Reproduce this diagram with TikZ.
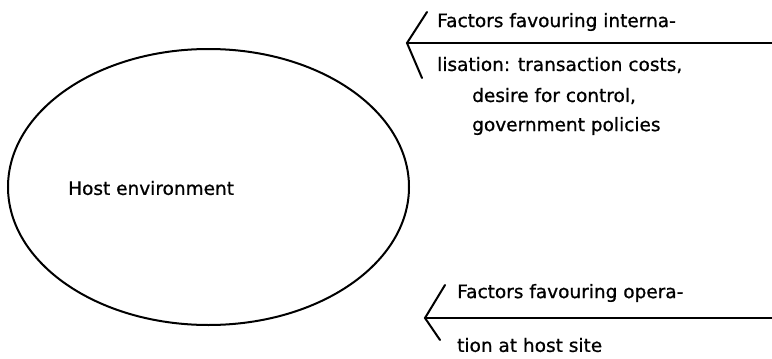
\documentclass[tikz,border=0pt]{standalone}
\usepackage{fontspec}
\setmainfont{DejaVu Sans}[FakeBold=0.8]
\usetikzlibrary{shapes.geometric}
\begin{document}
\begin{tikzpicture}[x=1pt,y=-1pt,
  lbl/.style={anchor=west,inner sep=0pt,font=\fontsize{18.5}{22}\selectfont},
  ln/.style={line width=2pt,line cap=round,line join=miter}]
\useasboundingbox (0,0) rectangle (772,359);
\node[ellipse,draw,line width=2pt,minimum width=401pt,minimum height=276pt,inner sep=0pt] (host) at (208.5,187) {};
\node[lbl] (hostlbl) at (68,188) {Host environment};
% top arrow
\coordinate (t1) at (772,43);
\coordinate (tip1) at (407,43);
\coordinate (ua) at (427,12);
\coordinate (la) at (422,78);
\draw[ln] (t1) -- (tip1);
\draw[ln] (ua) -- (tip1) -- (la);
\node[lbl] (f1) at (437,22) {Factors favouring interna-};
\node[lbl] (f2) at (437,65) {lisation: transaction costs,};
\node[lbl] (f3) at (472,96) {desire for control,};
\node[lbl] (f4) at (472,126) {government policies};
% bottom arrow
\coordinate (t2) at (772,318);
\coordinate (tip2) at (425,318);
\coordinate (ub) at (445,285);
\coordinate (lb) at (440,340);
\draw[ln] (t2) -- (tip2);
\draw[ln] (ub) -- (tip2) -- (lb);
\node[lbl] (g1) at (457,293) {Factors favouring opera-};
\node[lbl] (g2) at (457,345) {tion at host site};
\end{tikzpicture}
\end{document}
